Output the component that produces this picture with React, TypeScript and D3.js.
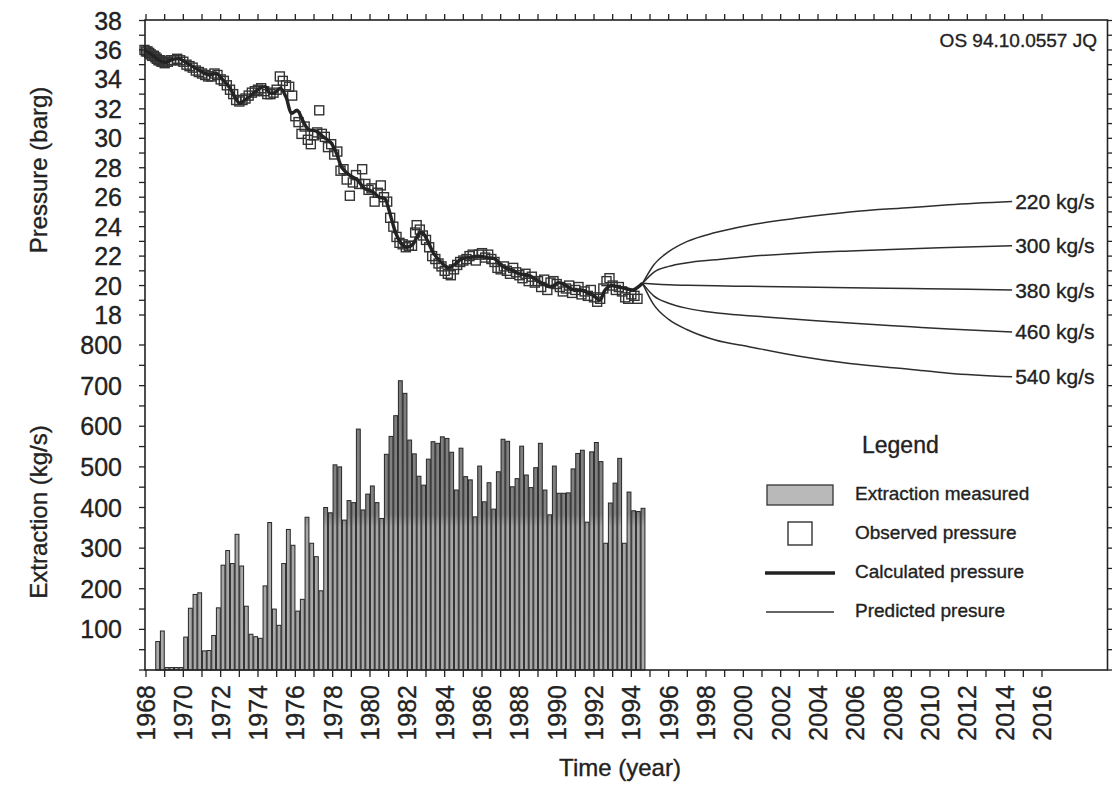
import React from "react";
import * as d3 from "d3";

// ---- data -------------------------------------------------------------

// Quarterly extraction (kg/s), first quarter starting 1968.5
const extractionStartYear = 1968.5;
const extractionQuarterly = [
  70, 96,
  6, 6, 6, 6,
  81, 152, 186, 190,
  47, 48, 85, 153,
  258, 294, 262, 334,
  256, 157, 88, 82,
  78, 207, 363, 150,
  110, 262, 346, 307,
  145, 174, 376, 312,
  279, 195, 400, 387,
  505, 500, 369, 417,
  412, 593, 394, 433,
  453, 412, 373, 531,
  575, 626, 712, 681,
  566, 532, 477, 455,
  519, 562, 558, 574,
  570, 536, 443, 546,
  476, 468, 377, 502,
  414, 461, 396, 488,
  568, 563, 451, 471,
  551, 480, 449, 498,
  558, 443, 382, 502,
  435, 435, 436, 495,
  533, 541, 364, 537,
  560, 513, 312, 411,
  460, 521, 312, 438,
  392, 390, 398,
];

// Observed reservoir pressure (year, barg)
const observedPressure: [number, number][] = [
  [1967.92, 36.0], [1968.0, 35.9], [1968.08, 35.9], [1968.17, 35.8], [1968.25, 35.7],
  [1968.33, 35.6], [1968.42, 35.6], [1968.5, 35.5], [1968.58, 35.4], [1968.67, 35.3],
  [1968.75, 35.3], [1968.83, 35.2], [1968.92, 35.2], [1969.0, 35.1], [1969.17, 35.2],
  [1969.33, 35.3], [1969.5, 35.3], [1969.67, 35.4], [1969.83, 35.3], [1970.0, 35.2],
  [1970.17, 35.0], [1970.33, 34.9], [1970.5, 34.8], [1970.67, 34.6], [1970.83, 34.5],
  [1971.0, 34.4], [1971.17, 34.3], [1971.33, 34.2], [1971.5, 34.2], [1971.67, 34.4],
  [1971.83, 34.3], [1972.0, 34.0], [1972.17, 33.9], [1972.33, 33.6], [1972.5, 33.3],
  [1972.67, 33.0], [1972.83, 32.6], [1973.0, 32.5], [1973.17, 32.6], [1973.33, 32.7],
  [1973.5, 32.9], [1973.67, 33.1], [1973.83, 33.2], [1974.0, 33.3], [1974.17, 33.4],
  [1974.33, 33.2], [1974.5, 33.0], [1974.67, 33.0], [1974.83, 33.1], [1975.0, 33.3],
  [1975.17, 34.2], [1975.33, 33.9], [1975.5, 33.6], [1975.67, 33.5], [1975.83, 32.9],
  [1976.0, 31.5], [1976.17, 31.1], [1976.33, 30.3], [1976.5, 30.8], [1976.67, 29.9],
  [1976.83, 29.6], [1977.0, 30.2], [1977.17, 30.4], [1977.28, 31.9], [1977.42, 30.3],
  [1977.58, 30.1], [1977.75, 29.4], [1977.92, 29.6], [1978.08, 28.9], [1978.25, 29.1],
  [1978.42, 27.8], [1978.58, 27.9], [1978.75, 27.2], [1978.92, 26.1], [1979.08, 27.0],
  [1979.25, 27.5], [1979.42, 26.9], [1979.58, 27.9], [1979.75, 26.9], [1979.92, 26.5],
  [1980.08, 26.6], [1980.25, 25.7], [1980.42, 26.3], [1980.58, 26.8], [1980.75, 26.0],
  [1980.92, 25.7], [1981.08, 24.6], [1981.25, 24.0], [1981.42, 23.3], [1981.58, 22.9],
  [1981.75, 22.8], [1981.92, 22.6], [1982.08, 22.7], [1982.25, 22.7], [1982.42, 23.6],
  [1982.5, 24.1], [1982.67, 23.8], [1982.83, 23.4], [1983.0, 23.1], [1983.17, 22.6],
  [1983.33, 22.0], [1983.5, 21.8], [1983.67, 21.5], [1983.83, 21.3], [1984.0, 21.0],
  [1984.17, 20.8], [1984.33, 20.7], [1984.5, 21.1], [1984.67, 21.4], [1984.83, 21.6],
  [1985.0, 21.7], [1985.17, 21.8], [1985.33, 22.0], [1985.5, 22.1], [1985.67, 21.7],
  [1985.83, 22.1], [1986.0, 22.2], [1986.17, 21.9], [1986.33, 22.1], [1986.5, 21.8],
  [1986.67, 21.6], [1986.83, 21.2], [1987.0, 21.1], [1987.17, 21.3], [1987.33, 21.0],
  [1987.5, 20.8], [1987.67, 21.2], [1987.83, 20.9], [1988.0, 20.7], [1988.17, 20.5],
  [1988.33, 20.8], [1988.5, 20.3], [1988.67, 20.6], [1988.83, 20.2], [1989.0, 20.3],
  [1989.17, 19.9], [1989.33, 20.4], [1989.5, 19.7], [1989.67, 20.2], [1989.83, 20.3],
  [1990.0, 20.1], [1990.17, 19.9], [1990.33, 19.6], [1990.5, 19.8], [1990.67, 20.0],
  [1990.83, 19.5], [1991.0, 19.7], [1991.17, 19.9], [1991.33, 19.4], [1991.5, 19.6],
  [1991.67, 19.3], [1991.83, 19.7], [1992.0, 19.2], [1992.17, 18.9], [1992.33, 19.1],
  [1992.5, 19.8], [1992.67, 20.3], [1992.83, 20.5], [1993.0, 20.0], [1993.17, 19.7],
  [1993.33, 19.9], [1993.5, 19.6], [1993.67, 19.2], [1993.83, 19.1], [1994.0, 19.4],
  [1994.17, 19.3], [1994.33, 19.1],
];

// Model-calculated pressure (year, barg)
const calculatedPressure: [number, number][] = [
  [1967.92, 36.0], [1968.3, 35.7], [1968.7, 35.3], [1969.0, 35.15], [1969.4, 35.35],
  [1969.8, 35.4], [1970.2, 35.1], [1970.6, 34.8], [1971.0, 34.5], [1971.4, 34.3],
  [1971.8, 34.4], [1972.1, 34.0], [1972.5, 33.4], [1972.8, 32.7], [1973.0, 32.4],
  [1973.3, 32.6], [1973.7, 33.0], [1974.1, 33.4], [1974.4, 33.5], [1974.6, 33.1],
  [1974.9, 33.1], [1975.2, 33.4], [1975.5, 32.8], [1975.8, 31.7], [1976.1, 31.9],
  [1976.4, 31.2], [1976.7, 30.6], [1977.1, 30.5], [1977.5, 30.1], [1977.9, 29.7],
  [1978.2, 29.0], [1978.5, 28.0], [1978.9, 27.5], [1979.3, 27.2], [1979.7, 26.6],
  [1980.1, 26.4], [1980.5, 26.0], [1980.8, 25.9], [1981.0, 25.2], [1981.2, 24.3],
  [1981.4, 23.5], [1981.7, 22.8], [1982.0, 22.6], [1982.3, 22.8], [1982.6, 23.5],
  [1982.8, 23.6], [1983.1, 23.0], [1983.4, 22.2], [1983.8, 21.6], [1984.2, 21.2],
  [1984.5, 21.4], [1984.9, 21.8], [1985.3, 21.9], [1985.8, 22.0], [1986.3, 21.9],
  [1986.7, 21.8], [1987.1, 21.3], [1987.5, 21.1], [1988.0, 20.8], [1988.5, 20.7],
  [1988.9, 20.4], [1989.3, 20.1], [1989.7, 19.9], [1990.1, 20.2], [1990.5, 20.0],
  [1990.9, 19.7], [1991.3, 19.7], [1991.7, 19.5], [1992.0, 19.3], [1992.3, 19.0],
  [1992.6, 19.7], [1992.9, 20.0], [1993.3, 19.9], [1993.7, 19.8], [1994.1, 19.7],
  [1994.6, 20.15],
];

// Predicted pressure for constant extraction rates
const predictionYears = [1994.6, 1995.2, 1996.0, 1997.0, 1998.5, 2000.3, 2003.0, 2005.7, 2009.0, 2011.0, 2014.4];
const predictionRates = ["220 kg/s", "300 kg/s", "380 kg/s", "460 kg/s", "540 kg/s"];
const prediction220 = [20.15, 21.4, 22.3, 23.0, 23.6, 24.1, 24.6, 25.0, 25.3, 25.48, 25.7];
const prediction300 = [20.15, 20.9, 21.3, 21.55, 21.75, 21.97, 22.2, 22.35, 22.5, 22.58, 22.7];
const prediction380 = [20.15, 20.1, 20.05, 20.02, 19.98, 19.95, 19.9, 19.85, 19.8, 19.76, 19.7];
const prediction460 = [20.15, 19.3, 18.8, 18.45, 18.15, 17.95, 17.7, 17.45, 17.2, 17.05, 16.85];
const prediction540 = [20.15, 18.7, 17.7, 17.0, 16.3, 15.85, 15.2, 14.7, 14.3, 14.05, 13.8];
const predictions = [prediction220, prediction300, prediction380, prediction460, prediction540];

// Axis ticks
const yearTicks = d3.range(1968, 2017, 1);
const yearLabels = d3.range(1968, 2017, 2);
const pressureTicks = d3.range(18, 39, 1);
const pressureLabels = d3.range(18, 39, 2);
const extractionTicks = d3.range(0, 801, 50);
const extractionLabels = d3.range(100, 801, 100);

const reportCode = "OS 94.10.0557 JQ";

// ---- layout -----------------------------------------------------------

const W = 1112;
const H = 790;
const frame = { left: 145, right: 1107.5, top: 20, bottom: 670 };
const FONT = "'Liberation Sans', Arial, Helvetica, sans-serif";
const INK = "#222";
// a hairline stroke gives the printed lettering a little more weight
const textWeight = { stroke: INK, strokeWidth: 0.35 };

const x = d3.scaleLinear().domain([1968, 2016]).range([146, 1042]);
const yP = d3.scaleLinear().domain([18, 38]).range([315, 20.5]);
const yE = d3.scaleLinear().domain([0, 800]).range([670, 345]);

export default function App() {
  const calcLine = d3
    .line<[number, number]>()
    .x((d) => x(d[0]))
    .y((d) => yP(d[1]))
    .curve(d3.curveCatmullRom.alpha(0.5));

  const predLine = d3
    .line<number>()
    .x((_, i) => x(predictionYears[i]))
    .y((d) => yP(d))
    .curve(d3.curveMonotoneX);

  const sq = 9;
  const lastYear = predictionYears[predictionYears.length - 1];

  return (
    <svg width={W} height={H} viewBox={`0 0 ${W} ${H}`} style={{ display: "block", background: "#fff" }}>
      <style>{`body{margin:0}`}</style>
      <defs>
        <linearGradient id="barFill" gradientUnits="userSpaceOnUse" x1="0" y1={yE(800)} x2="0" y2={yE(0)}>
          <stop offset="0" stopColor="#7a7a7a" />
          <stop offset="0.52" stopColor="#838383" />
          <stop offset="0.56" stopColor="#a6a6a6" />
          <stop offset="1" stopColor="#aaaaaa" />
        </linearGradient>
      </defs>

      {/* extraction bars */}
      <g>
        {extractionQuarterly.map((v, i) => {
          const x0 = x(extractionStartYear + i * 0.25);
          const x1 = x(extractionStartYear + (i + 1) * 0.25);
          const top = yE(v);
          return (
            <rect
              key={i}
              x={x0 + 0.4}
              y={top}
              width={x1 - x0 - 0.8}
              height={yE(0) - top}
              fill="url(#barFill)"
              stroke="#262626"
              strokeWidth={1}
            />
          );
        })}
      </g>

      {/* predicted pressure */}
      <g fill="none" stroke="#2e2e2e" strokeWidth={1.5}>
        {predictions.map((p, i) => (
          <path key={i} d={predLine(p) || ""} />
        ))}
      </g>
      <g fontFamily={FONT} fontSize={21} fill={INK} {...textWeight}>
        {predictions.map((p, i) => (
          <text key={i} x={x(lastYear) + 3} y={yP(p[p.length - 1])} dy="0.36em">
            {predictionRates[i]}
          </text>
        ))}
      </g>

      {/* observed pressure */}
      <g fill="none" stroke="#333" strokeWidth={1.4}>
        {observedPressure.map((d, i) => (
          <rect key={i} x={x(d[0]) - sq / 2} y={yP(d[1]) - sq / 2} width={sq} height={sq} />
        ))}
      </g>

      {/* calculated pressure */}
      <path d={calcLine(calculatedPressure) || ""} fill="none" stroke="#232323" strokeWidth={3.4} strokeLinejoin="round" />

      {/* frame */}
      <rect
        x={frame.left}
        y={frame.top}
        width={frame.right - frame.left}
        height={frame.bottom - frame.top}
        fill="none"
        stroke={INK}
        strokeWidth={1.6}
      />

      {/* year ticks, top and bottom */}
      <g stroke={INK} strokeWidth={1.3}>
        {yearTicks.map((t) => (
          <g key={t}>
            <line x1={x(t)} x2={x(t)} y1={frame.top} y2={frame.top - 6} />
            <line x1={x(t)} x2={x(t)} y1={frame.bottom} y2={frame.bottom + 7} />
          </g>
        ))}
      </g>

      {/* left and right value ticks */}
      <g stroke={INK} strokeWidth={1.3}>
        {pressureTicks.map((t) => (
          <g key={"p" + t}>
            <line x1={frame.left} x2={frame.left - 6} y1={yP(t)} y2={yP(t)} />
            <line x1={frame.right} x2={frame.right + 6} y1={yP(t)} y2={yP(t)} />
          </g>
        ))}
        {extractionTicks.map((t) => (
          <g key={"e" + t}>
            <line x1={frame.left} x2={frame.left - 6} y1={yE(t)} y2={yE(t)} />
            <line x1={frame.right} x2={frame.right + 6} y1={yE(t)} y2={yE(t)} />
          </g>
        ))}
      </g>

      {/* tick labels */}
      <g fontFamily={FONT} fontSize={25} fill={INK} textAnchor="end" {...textWeight}>
        {pressureLabels.map((t) => (
          <text key={"pl" + t} x={122} y={yP(t)} dy="0.36em">
            {t}
          </text>
        ))}
        {extractionLabels.map((t) => (
          <text key={"el" + t} x={122} y={yE(t)} dy="0.36em">
            {t}
          </text>
        ))}
      </g>
      <g fontFamily={FONT} fontSize={25} fill={INK} textAnchor="end" {...textWeight}>
        {yearLabels.map((t) => (
          <text key={"yl" + t} transform={`translate(${x(t)},685) rotate(-90)`} dy="0.36em">
            {t}
          </text>
        ))}
      </g>

      {/* axis titles */}
      <g fontFamily={FONT} fontSize={24} fill={INK} textAnchor="middle" {...textWeight}>
        <text transform="translate(47,170) rotate(-90)">Pressure (barg)</text>
        <text transform="translate(47,512) rotate(-90)">Extraction (kg/s)</text>
        <text x={620} y={776}>Time (year)</text>
      </g>

      <text x={1097} y={47} fontFamily={FONT} fontSize={19} fill={INK} textAnchor="end" {...textWeight}>
        {reportCode}
      </text>

      {/* legend */}
      <g fontFamily={FONT} fill={INK}>
        <text x={862} y={453} fontSize={23} {...textWeight}>Legend</text>
        <rect x={767} y={485} width={66} height={20} fill="#b9b9b9" stroke="#333" strokeWidth={1.3} />
        <text x={855} y={500} fontSize={19} {...textWeight}>Extraction measured</text>
        <rect x={788} y={522} width={24} height={23} fill="none" stroke="#333" strokeWidth={1.4} />
        <text x={855} y={539} fontSize={19} {...textWeight}>Observed pressure</text>
        <line x1={765} x2={835} y1={573} y2={573} stroke="#222" strokeWidth={3.5} />
        <text x={855} y={578} fontSize={19} {...textWeight}>Calculated pressure</text>
        <line x1={766} x2={834} y1={612} y2={612} stroke="#333" strokeWidth={1.4} />
        <text x={855} y={617} fontSize={19} {...textWeight}>Predicted presure</text>
      </g>
    </svg>
  );
}
